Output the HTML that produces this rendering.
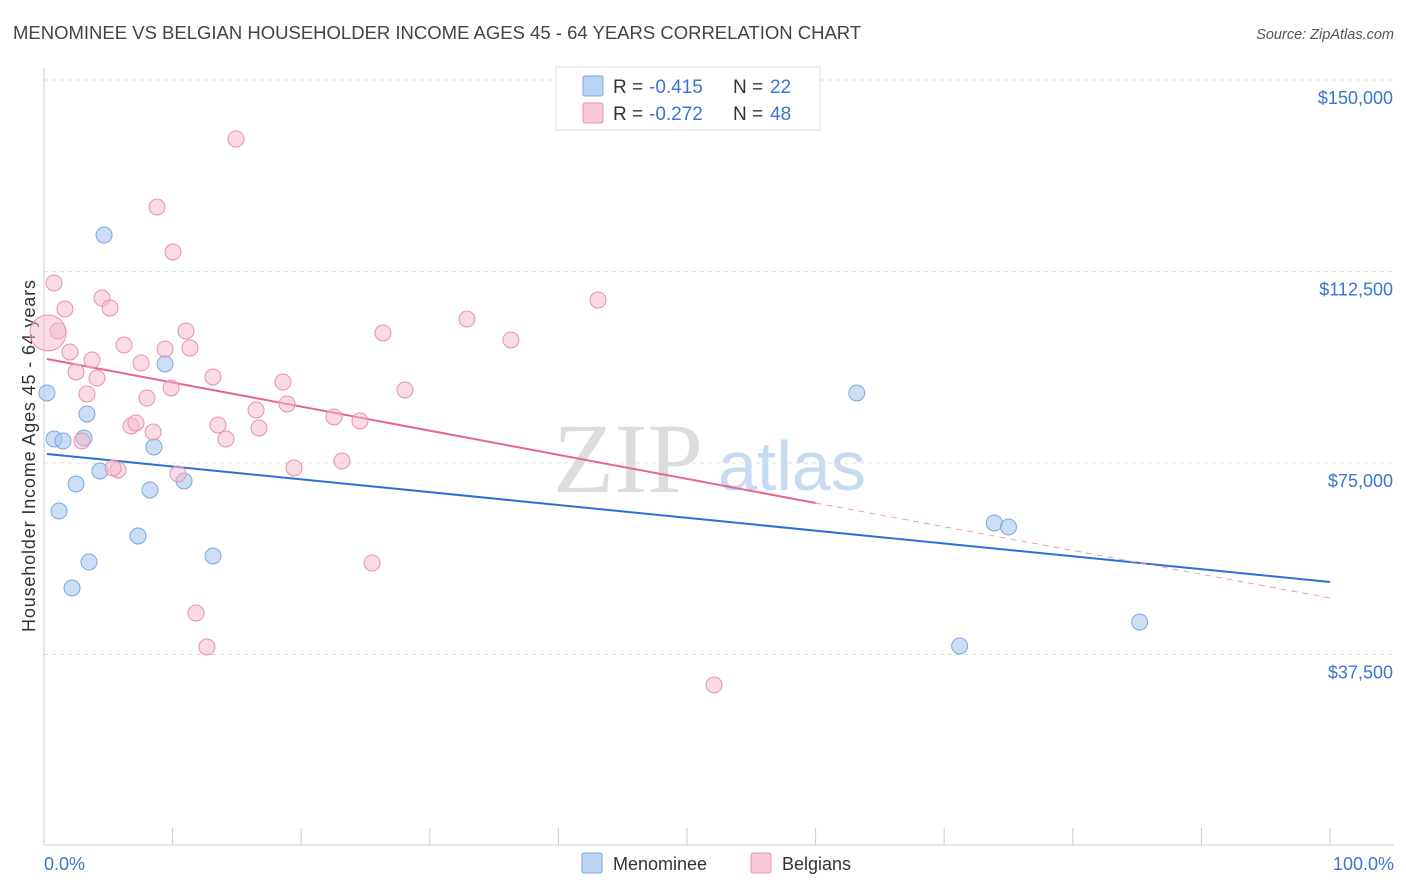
<!DOCTYPE html>
<html><head><meta charset="utf-8"><style>
body{margin:0;background:#fff;font-family:"Liberation Sans",sans-serif}
svg{display:block}
</style></head><body>
<svg id="c" width="1406" height="892" xmlns="http://www.w3.org/2000/svg">
<text x="13" y="39" font-size="18.5" fill="#444">MENOMINEE VS BELGIAN HOUSEHOLDER INCOME AGES 45 - 64 YEARS CORRELATION CHART</text>
<text x="1394" y="39" font-size="14.5" fill="#555" font-style="italic" text-anchor="end">Source: ZipAtlas.com</text>
<text x="35" y="456" font-size="18" fill="#333" text-anchor="middle" textLength="352" transform="rotate(-90 35 456)">Householder Income Ages 45 - 64 years</text>
<g id="grid"></g>
<text x="553" y="492" font-size="100" fill="#ddd" font-family="Liberation Serif,serif">ZIP</text>
<text x="718" y="490" font-size="70" fill="#c8daf2">atlas</text>
<g id="lines"></g>
<g id="pts"></g>
<g>
<rect x="556" y="67" width="264" height="63" fill="#fff" stroke="#ddd"/>
<rect x="583" y="76" width="20" height="20" fill="#bcd4f4" stroke="#7aa8e0" rx="2"/>
<text x="613" y="93" font-size="19" fill="#333">R =</text>
<text x="649" y="93" font-size="19" fill="#3a75d0">-0.415</text>
<text x="733" y="93" font-size="19" fill="#333">N =</text>
<text x="770" y="93" font-size="19" fill="#3a75d0">22</text>
<rect x="583" y="103" width="20" height="20" fill="#f8c8d8" stroke="#e890b0" rx="2"/>
<text x="613" y="120" font-size="19" fill="#333">R =</text>
<text x="649" y="120" font-size="19" fill="#3a75d0">-0.272</text>
<text x="733" y="120" font-size="19" fill="#333">N =</text>
<text x="770" y="120" font-size="19" fill="#3a75d0">48</text>
</g>
<g>
<rect x="582" y="853" width="20" height="20" fill="#bcd4f4" stroke="#7aa8e0" rx="2"/>
<text x="613" y="870" font-size="18" fill="#333">Menominee</text>
<rect x="751" y="853" width="20" height="20" fill="#f8c8d8" stroke="#e890b0" rx="2"/>
<text x="782" y="870" font-size="18" fill="#333">Belgians</text>
</g>
</svg>
<script>
const yTicks=[37500,75000,112500,150000];
const yTickLabels=["$37,500","$75,000","$112,500","$150,000"];
const xTickLabels=["0.0%","100.0%"];
const blueX=[0.23,4.67,0.78,1.48,3.11,3.34,9.41,8.55,4.35,2.49,8.24,10.89,1.17,7.31,3.50,13.14,2.18,63.2,73.9,75.0,71.2,85.2];
const blueY=[88710,119650,79700,79310,79900,84600,94390,78140,73440,70890,69720,71480,65600,60710,55620,56790,50530,88710,63260,62470,39170,43870];
const pinkX=[14.93,8.79,10.03,0.78,4.51,1.63,5.13,43.08,32.89,1.09,11.04,26.36,36.31,6.22,9.41,11.35,2.02,3.73,7.54,2.49,4.12,13.14,18.58,9.88,3.34,28.07,8.01,18.90,16.49,22.55,24.57,6.77,13.53,7.15,8.48,16.72,14.15,2.95,5.75,10.42,19.44,23.17,25.51,11.82,12.67,52.10,0.31,5.37];
const pinkY=[138450,125130,116320,110250,107310,105160,105360,106920,103200,100850,100850,100460,99090,98110,97330,97520,96740,95170,94590,92830,91650,91840,90860,89690,88520,89300,87730,86560,85380,84010,83230,82250,82440,82840,81070,81860,79700,79310,73630,72850,74020,75390,55420,45630,38970,31530,100460,74020];
const blueTrend=[0.23,76770,100,51700];
const pinkTrend=[0.23,95370,60,67170,100,48570];
const NS="http://www.w3.org/2000/svg";
const X=p=>44+p*12.86, Y=v=>80+(150000-v)/37500*191.5;
function mk(t,a,parent){const e=document.createElementNS(NS,t);for(const k in a)e.setAttribute(k,a[k]);document.getElementById(parent).appendChild(e);return e;}
yTicks.forEach((v,i)=>{
 const l=mk('line',{x1:44,x2:1394,y1:Y(v),y2:Y(v),stroke:'#ddd','stroke-dasharray':'4,4'},'grid');
 
 
 const t=mk('text',{x:1393,y:Y(v)+24,'font-size':18,fill:'#3a75d0','text-anchor':'end'},'grid');
 t.textContent=yTickLabels[i];
 
 
});
let ax=mk('line',{x1:44,x2:1394,y1:845,y2:845,stroke:'#ccc'},'grid');


let ay=mk('line',{x1:44,x2:44,y1:68,y2:845,stroke:'#ccc'},'grid');


for(let i=0;i<=10;i++){const tk=mk('line',{x1:X(i*10),x2:X(i*10),y1:828,y2:845,stroke:'#ccc'},'grid');
 
 }
[[0,'start',44],[100,'end',1394]].forEach((d,i)=>{const t=mk('text',{x:d[2],y:870,'font-size':18,fill:'#3a75d0','text-anchor':d[1]},'grid');t.textContent=xTickLabels[i];
 
 });
blueX.forEach((x,i)=>{const c=mk('circle',{cx:X(x),cy:Y(blueY[i]),r:8,fill:'rgba(168,200,240,0.6)',stroke:'#7aa8e0','stroke-width':1},'pts');
 
 });
pinkX.forEach((x,i)=>{const c=mk('circle',{cx:X(x),cy:Y(pinkY[i]),r:i==46?18:8,fill:'rgba(245,184,204,0.5)',stroke:'#e890b0','stroke-width':1},'pts');
 
 });
let b=mk('line',{x1:X(blueTrend[0]),y1:Y(blueTrend[1]),x2:X(blueTrend[2]),y2:Y(blueTrend[3]),stroke:'#2c6fd6','stroke-width':2},'lines');


let p=mk('line',{x1:X(pinkTrend[0]),y1:Y(pinkTrend[1]),x2:X(pinkTrend[2]),y2:Y(pinkTrend[3]),stroke:'#e8648e','stroke-width':2},'lines');


let pd=mk('line',{x1:X(pinkTrend[2]),y1:Y(pinkTrend[3]),x2:X(pinkTrend[4]),y2:Y(pinkTrend[5]),stroke:'#e8a0b8','stroke-width':1,'stroke-dasharray':'6,5'},'lines');


</script>
</body></html>
